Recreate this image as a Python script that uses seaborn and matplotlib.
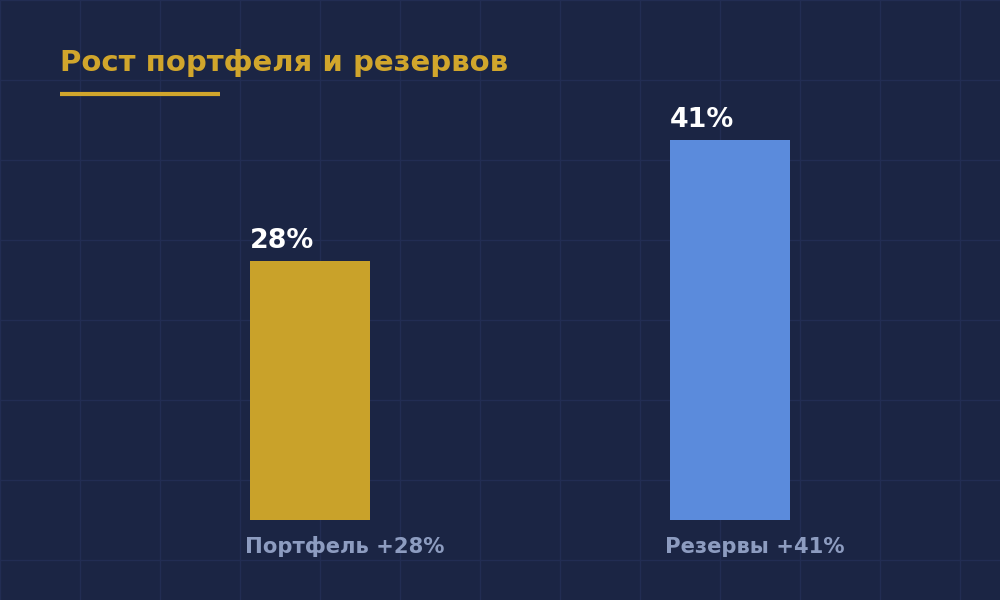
import matplotlib
matplotlib.use("Agg")
import matplotlib.pyplot as plt
import seaborn as sns
import pandas as pd

# данные
categories = ["Портфель", "Резервы"]
values = [28, 41]
value_labels = ["28%", "41%"]
tick_labels = ["Портфель +28%", "Резервы +41%"]
bar_colors = ["#c9a22a", "#5b8bdc"]

title = "Рост портфеля и резервов"

BG = "#1b2544"
GRID = "#222d53"
GOLD = "#d1a62c"
LABEL = "#8d9cc0"

sns.set_theme(style="dark")
plt.rcParams["font.family"] = ["DejaVu Sans"]

W, H = 1000, 600
fig = plt.figure(figsize=(W / 100, H / 100), dpi=100, facecolor=BG)

# фон с сеткой (пиксельные координаты)
bg = fig.add_axes([0, 0, 1, 1])
bg.set_facecolor(BG)
bg.set_xlim(0, W)
bg.set_ylim(H, 0)
bg.set_xticks(range(0, W + 1, 80))
bg.set_yticks(range(0, H + 1, 80))
bg.grid(True, color=GRID, linewidth=1)
bg.tick_params(length=0, labelbottom=False, labelleft=False)
for s in bg.spines.values():
    s.set_visible(False)

# заголовок и подчёркивание
bg.text(60, 71, title, color=GOLD, fontsize=21, fontweight="bold",
        va="baseline", ha="left")
bg.plot([60, 220], [94, 94], color=GOLD, linewidth=3, solid_capstyle="butt")

# столбцы
df = pd.DataFrame({"cat": categories, "val": values})
base_px = 520
ymax = 50
px_per_unit = 9.26
ax_h = ymax * px_per_unit
ax = fig.add_axes([0, (H - base_px) / H, 1, ax_h / H])
ax.patch.set_alpha(0)
bw = 120 / 420
sns.barplot(data=df, x="cat", y="val", hue="cat", palette=bar_colors,
            width=bw, legend=False, ax=ax, saturation=1, edgecolor="none")
ax.set_xlim(-310 / 420, 690 / 420)
ax.set_ylim(0, ymax)
ax.axis("off")

for i, (v, vl, tl) in enumerate(zip(values, value_labels, tick_labels)):
    left = i - bw / 2
    ax.annotate(vl, (left, v), xytext=(0, 13), textcoords="offset pixels",
                color="white", fontsize=19.4, fontweight="bold",
                ha="left", va="baseline")
    ax.annotate(tl, (left, 0), xytext=(-5, -33), textcoords="offset pixels",
                color=LABEL, fontsize=15.2, fontweight="bold",
                ha="left", va="baseline", annotation_clip=False)

fig.savefig("out.png", dpi=100, facecolor=BG)
